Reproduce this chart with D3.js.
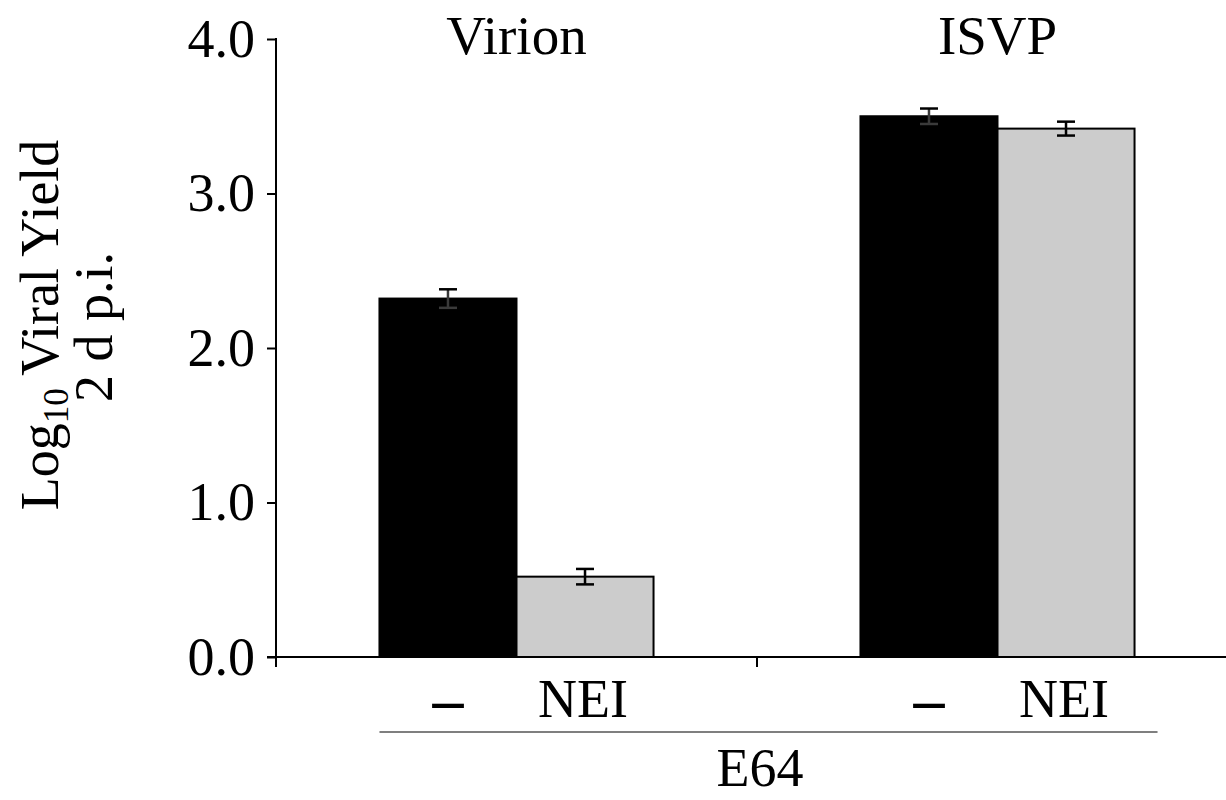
<!DOCTYPE html>
<html>
<head>
<meta charset="utf-8">
<script src="https://cdn.jsdelivr.net/npm/d3@7"></script>
<style>
  body { margin: 0; background: #fff; }
  svg text { font-family: "Liberation Serif", "Times New Roman", serif; fill: #000; }
</style>
</head>
<body>
<svg id="chart" width="1226" height="800"></svg>
<script>
(function () {
  'use strict';

  // data
  var groups = ["Virion", "ISVP"];
  var treatments = ["\u2013", "NEI"];
  var yieldMinus = [2.32, 3.50];
  var yieldNEI = [0.52, 3.42];
  var errMinus = [0.06, 0.05];
  var errNEI = [0.05, 0.045];
  var yTicks = [0, 1, 2, 3, 4];
  var fills = ["#000000", "#cccccc"];

  var rows = [];
  groups.forEach(function (g, i) {
    rows.push({ group: g, treat: treatments[0], value: yieldMinus[i], err: errMinus[i], fill: fills[0] });
    rows.push({ group: g, treat: treatments[1], value: yieldNEI[i], err: errNEI[i], fill: fills[1] });
  });

  var svg = d3.select("#chart");

  var left = 276, right = 1238, top = 39, bottom = 657;
  var fs = "54px";

  var x0 = d3.scaleBand().domain(groups).range([left, right]).padding(0);
  var x1 = d3.scaleBand().domain(treatments).range([0, x0.bandwidth()])
      .paddingInner(0).paddingOuter(0.755);
  var y = d3.scaleLinear().domain([0, 4]).range([bottom, top]);

  // bars
  svg.append("g").selectAll("rect")
      .data(rows)
      .enter().append("rect")
        .attr("x", function (d) { return x0(d.group) + x1(d.treat); })
        .attr("y", function (d) { return y(d.value); })
        .attr("width", x1.bandwidth())
        .attr("height", function (d) { return y(0) - y(d.value); })
        .style("fill", function (d) { return d.fill; })
        .style("stroke", "#000")
        .style("stroke-width", 2);

  // error bars
  var capW = 9;
  var eb = svg.append("g").selectAll("g")
      .data(rows)
      .enter().append("g")
        .attr("transform", function (d) {
          return "translate(" + (x0(d.group) + x1(d.treat) + x1.bandwidth() / 2) + ",0)";
        })
        .style("stroke", function (d) { return d.fill === "#000000" ? "#3a3a3a" : "#000"; })
        .style("stroke-width", 2.5);
  eb.append("line")
      .attr("y1", function (d) { return y(d.value + d.err); })
      .attr("y2", function (d) { return y(d.value - d.err); });
  eb.append("line")
      .attr("x1", -capW).attr("x2", capW)
      .attr("y1", function (d) { return y(d.value + d.err); })
      .attr("y2", function (d) { return y(d.value + d.err); })
      .style("stroke", "#000");
  eb.append("line")
      .attr("x1", -capW).attr("x2", capW)
      .attr("y1", function (d) { return y(d.value - d.err); })
      .attr("y2", function (d) { return y(d.value - d.err); });

  // y axis
  var yAxis = svg.append("g")
      .attr("transform", "translate(" + left + ",0)")
      .call(d3.axisLeft(y).tickValues(yTicks).tickFormat(d3.format(".1f"))
            .tickSize(9).tickPadding(12));
  yAxis.select(".domain").remove();
  yAxis.selectAll(".tick line").style("stroke", "#000").style("stroke-width", 2);
  yAxis.selectAll(".tick text").style("font-size", fs)
      .style("font-family", "'Liberation Serif', 'Times New Roman', serif");
  yAxis.append("line")
      .attr("y1", y(4) - 1).attr("y2", y(0) + 10)
      .style("stroke", "#000").style("stroke-width", 2);

  // x axis
  var xAxis = svg.append("g")
      .attr("transform", "translate(0," + bottom + ")");
  xAxis.append("line")
      .attr("x1", left - 9).attr("x2", right)
      .style("stroke", "#000").style("stroke-width", 2);
  xAxis.append("line")
      .attr("x1", x0("ISVP")).attr("x2", x0("ISVP"))
      .attr("y1", 0).attr("y2", 10)
      .style("stroke", "#000").style("stroke-width", 2);

  // group titles
  svg.append("g").selectAll("text")
      .data(groups)
      .enter().append("text")
        .attr("x", function (d) { return x0(d) + x0.bandwidth() / 2; })
        .attr("y", 54)
        .attr("text-anchor", "middle")
        .style("font-size", "55px")
        .text(function (d) { return d; });

  // treatment labels
  rows.forEach(function (d) {
    var t = svg.append("text")
        .attr("x", x0(d.group) + x1(d.treat) + x1.bandwidth() / 2 - (d.treat === "NEI" ? 2 : 0))
        .attr("y", 717)
        .attr("text-anchor", "middle")
        .style("font-size", fs)
        .text(d.treat);
    if (d.treat !== "NEI") t.style("font-weight", "bold").style("font-size", "62px").attr("y", 720);
  });

  // E64 bracket line
  svg.append("line")
      .attr("x1", x0("Virion") + x1(treatments[0]))
      .attr("x2", x0("ISVP") + x1(treatments[1]) + x1.bandwidth() + 23)
      .attr("y1", 732).attr("y2", 732)
      .style("stroke", "#555").style("stroke-width", 1.5);

  svg.append("text")
      .attr("x", x0("ISVP") + 3)
      .attr("y", 786)
      .attr("text-anchor", "middle")
      .style("font-size", fs)
      .text("E64");

  // y label
  var yl = svg.append("text")
      .attr("transform", "translate(58,325) rotate(-90)")
      .attr("text-anchor", "middle")
      .style("font-size", fs);
  yl.append("tspan").text("Log");
  yl.append("tspan").attr("dy", 10).style("font-size", "35px").text("10");
  yl.append("tspan").attr("dy", -10).text(" Viral Yield");

  svg.append("text")
      .attr("transform", "translate(112,327) rotate(-90)")
      .attr("text-anchor", "middle")
      .style("font-size", fs)
      .text("2 d p.i.");
}());
</script>
</body>
</html>
